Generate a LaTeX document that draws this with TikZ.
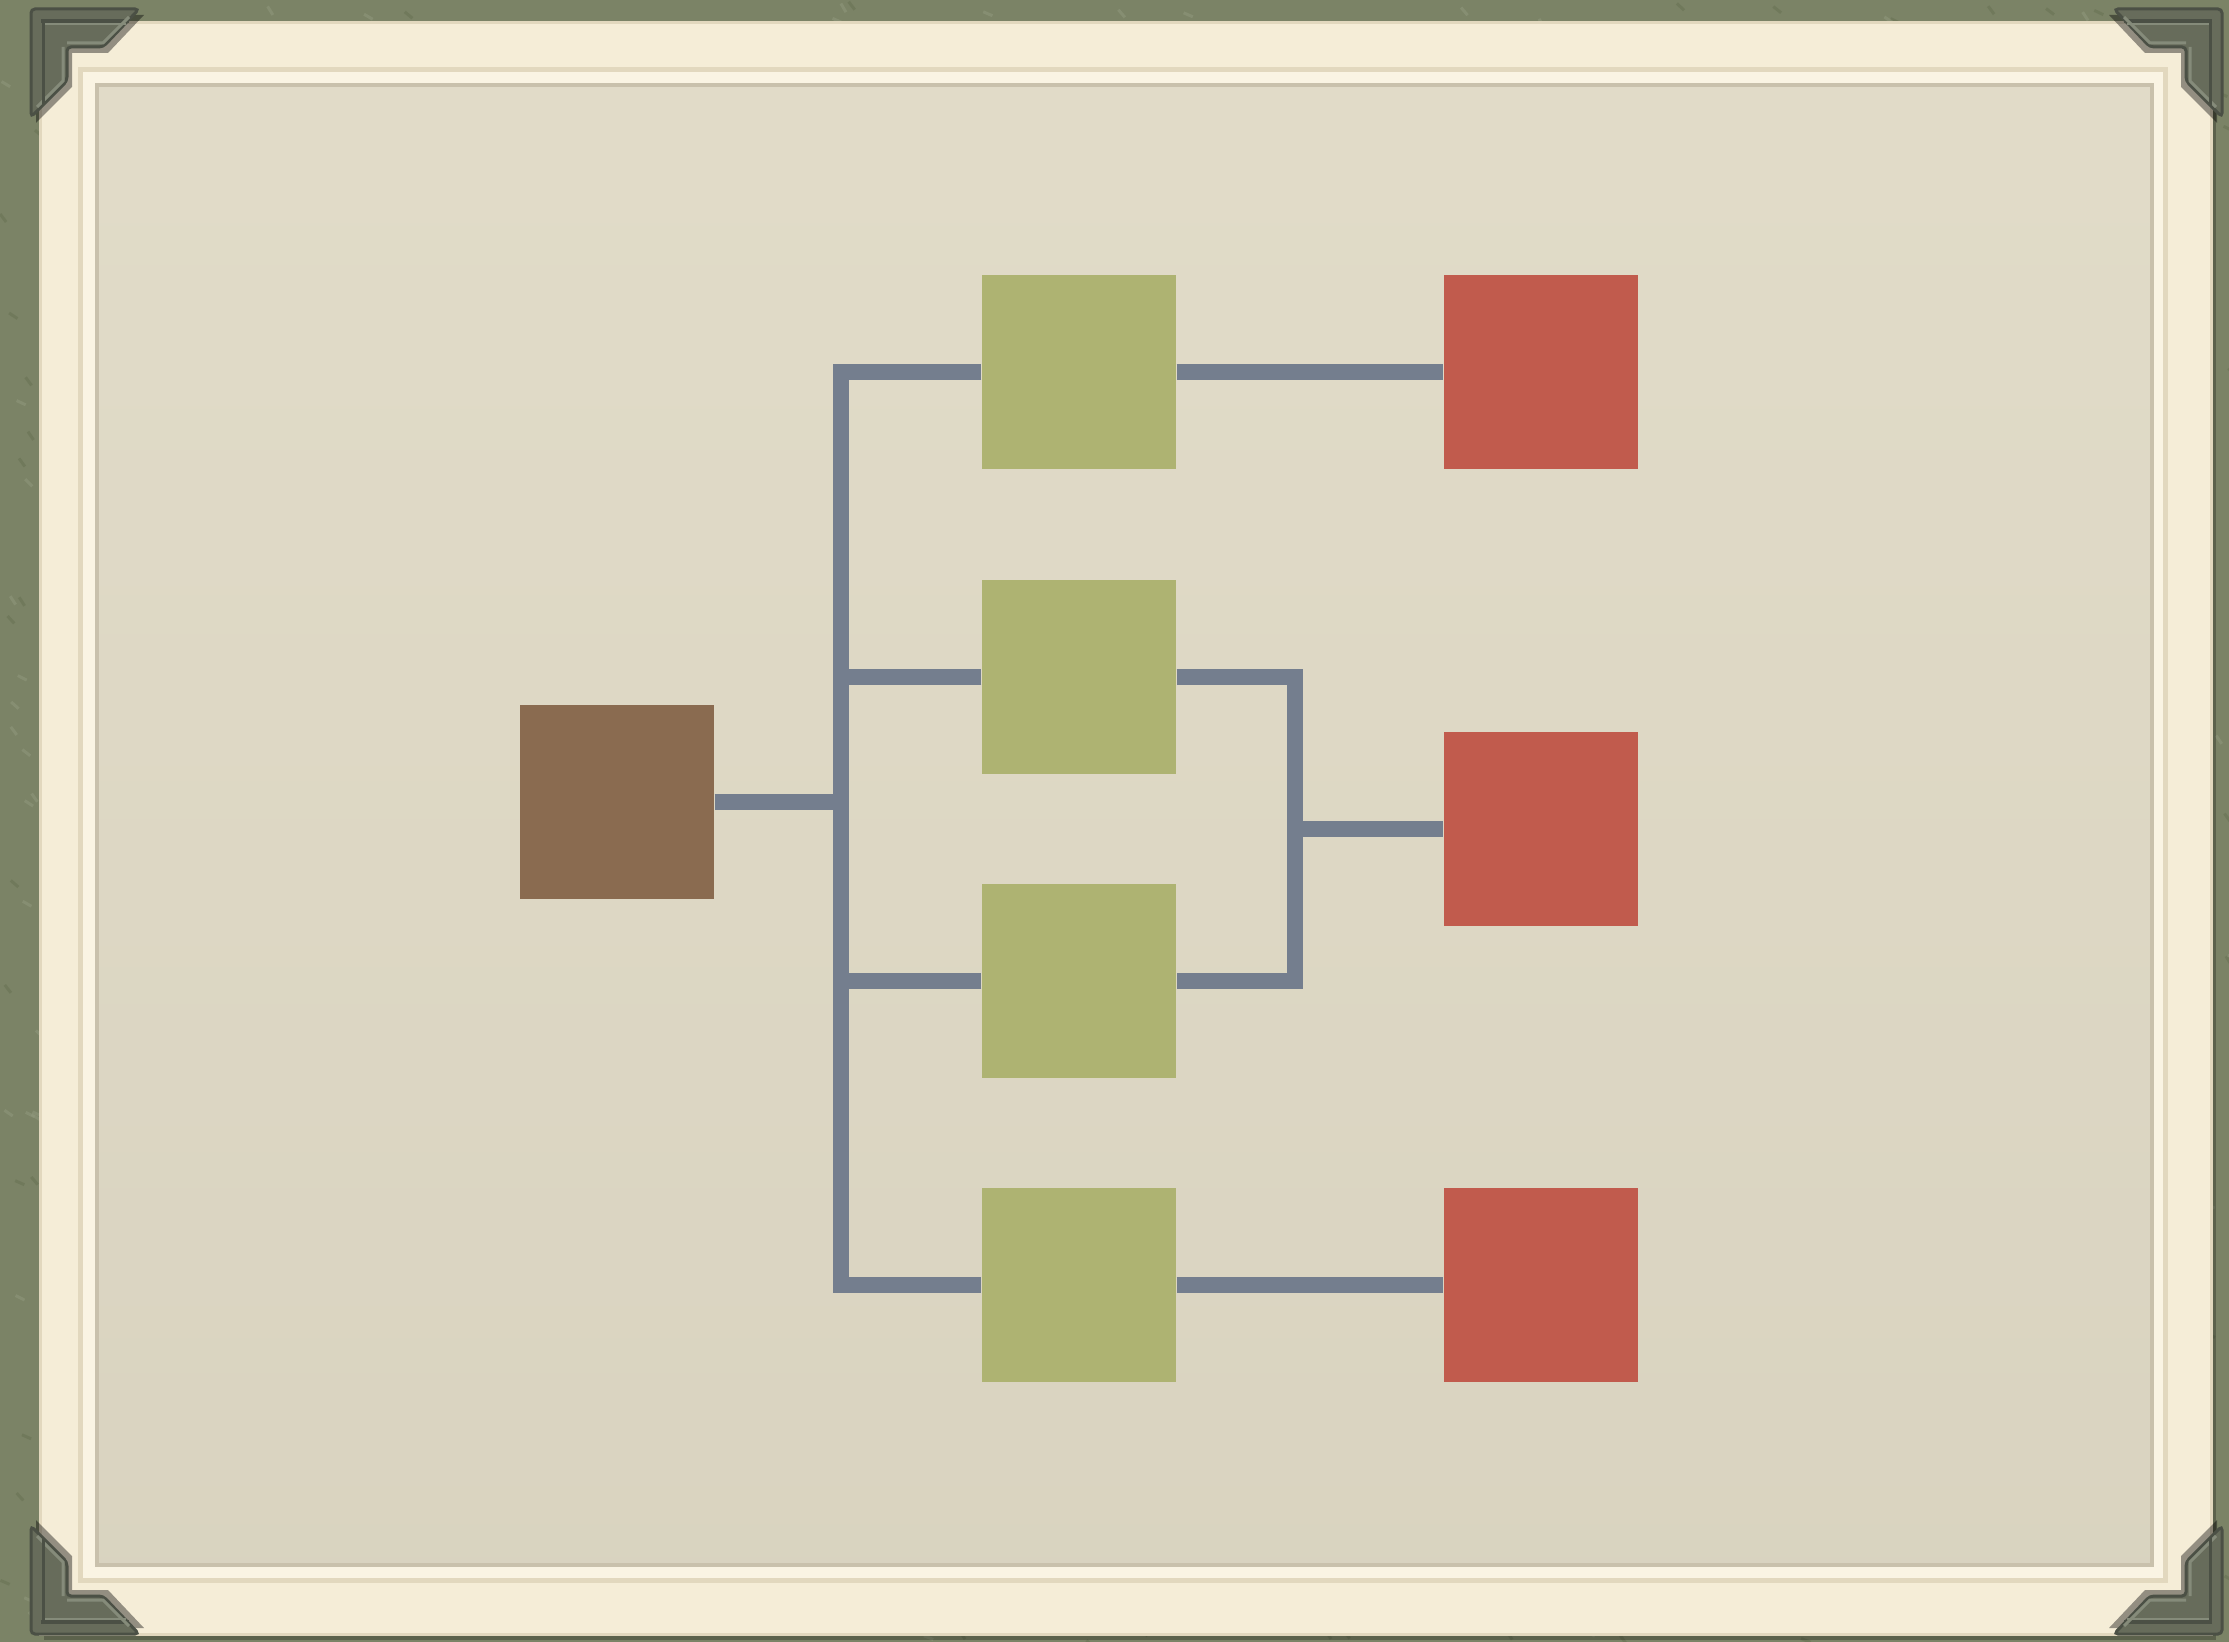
\documentclass[tikz,border=0pt]{standalone}
\definecolor{felt}{HTML}{7B8366}
\definecolor{feltdark}{HTML}{667051}
\definecolor{feltlight}{HTML}{929A7E}
\definecolor{card}{HTML}{F5EDD7}
\definecolor{cardedge}{HTML}{E2D8BE}
\definecolor{groove}{HTML}{FAF4E3}
\definecolor{panel}{HTML}{E0DAC6}
\definecolor{paneledge}{HTML}{C9C1AC}
\definecolor{metal}{HTML}{676C5B}
\definecolor{metaldark}{HTML}{4B5045}
\definecolor{metallight}{HTML}{858B7A}
\definecolor{wire}{HTML}{747E8E}
\definecolor{leaf}{HTML}{AEB372}
\definecolor{brick}{HTML}{C15B4D}
\definecolor{bark}{HTML}{8A6B50}
\tikzset{
  block/.style={rectangle, draw=none, inner sep=0pt, minimum size=19.4mm},
  rootbox/.style={block, fill=bark},
  midbox/.style={block, fill=leaf},
  endbox/.style={block, fill=brick},
  conn/.style={draw=wire, line width=1.6mm, line join=miter, line cap=butt},
}
% one metal photo corner, outer corner at the local origin
\newcommand{\photocorner}{%
  \fill[black, opacity=0.4] (5,6) -- (113,6) -- (77,44) -- (41,44) -- (41,78) -- (5,114) -- cycle;
  \fill[metal, draw=metaldark, line width=0.3mm, rounded corners=0.4mm]
    (0,0) -- (108,0) -- (72,38) -- (36,38) -- (36,72) -- (0,108) -- cycle;
  % bevel ridges
  \draw[metaldark, line width=0.35mm] (10,12) -- (98,12);
  \draw[metallight, line width=0.25mm] (12,15) -- (95,15);
  \draw[metallight, line width=0.3mm] (36,34) -- (72,34) -- (98,8);
  \draw[metallight, line width=0.3mm] (32,38) -- (32,72) -- (6,98);
  \draw[metaldark, line width=0.3mm] (12,14) -- (12,96);
}
\begin{document}
\begin{tikzpicture}[x=0.1mm, y=-0.1mm]
  \useasboundingbox (0,0) rectangle (2229,1642);
  % felt backdrop with a mottled nap
  \fill[felt] (0,0) rectangle (2229,1642);
  \pgfmathsetseed{7}
  \foreach \i in {1,...,700} {
    \pgfmathsetmacro{\px}{rnd*2229}
    \pgfmathsetmacro{\py}{rnd*1642}
    \pgfmathsetmacro{\ang}{20+rnd*40}
    \draw[feltdark, opacity=0.5, line width=0.3mm] (\px,\py) -- ++(\ang:10);
  }
  \foreach \i in {1,...,700} {
    \pgfmathsetmacro{\px}{rnd*2229}
    \pgfmathsetmacro{\py}{rnd*1642}
    \pgfmathsetmacro{\ang}{20+rnd*40}
    \draw[feltlight, opacity=0.5, line width=0.3mm] (\px,\py) -- ++(\ang:10);
  }
  % cream card with its groove and the inner panel
  \fill[black, opacity=0.25] (44,28) rectangle (2216,1640);
  \fill[card, draw=cardedge, line width=0.3mm] (40,23) rectangle (2211,1634);
  \fill[groove, draw=cardedge, line width=0.5mm] (80,70) rectangle (2165,1580);
  \shade[top color=panel!96!white, bottom color=panel!97!black, draw=paneledge, line width=0.4mm]
    (97,85) rectangle (2152,1565);
  % photo corners
  \begin{scope}[shift={(31,9)}] \photocorner \end{scope}
  \begin{scope}[shift={(2222,9)}, xscale=-1] \photocorner \end{scope}
  \begin{scope}[shift={(31,1634)}, yscale=-1] \photocorner \end{scope}
  \begin{scope}[shift={(2222,1634)}, xscale=-1, yscale=-1] \photocorner \end{scope}

  % boxes
  \node[rootbox] (root) at (617,802) {};
  \node[midbox] (g1) at (1079,372) {};
  \node[midbox] (g2) at (1079,677) {};
  \node[midbox] (g3) at (1079,981) {};
  \node[midbox] (g4) at (1079,1285) {};
  \node[endbox] (r1) at (1541,372) {};
  \node[endbox] (r2) at (1541,829) {};
  \node[endbox] (r3) at (1541,1285) {};
  \coordinate (tx) at (841,0);
  \coordinate (mx) at (1295,0);

  % connectors
  \draw[conn] (g1.west) -- (g1.west -| tx) -- (g4.west -| tx) -- (g4.west);
  \draw[conn] (root.east) -- (root.east -| tx);
  \draw[conn] (g2.west) -- (g2.west -| tx);
  \draw[conn] (g3.west) -- (g3.west -| tx);
  \draw[conn] (g2.east) -- (g2.east -| mx) -- (g3.east -| mx) -- (g3.east);
  \draw[conn] (r2.west -| mx) -- (r2.west);
  \draw[conn] (g1.east) -- (r1.west);
  \draw[conn] (g4.east) -- (r3.west);
\end{tikzpicture}
\end{document}
